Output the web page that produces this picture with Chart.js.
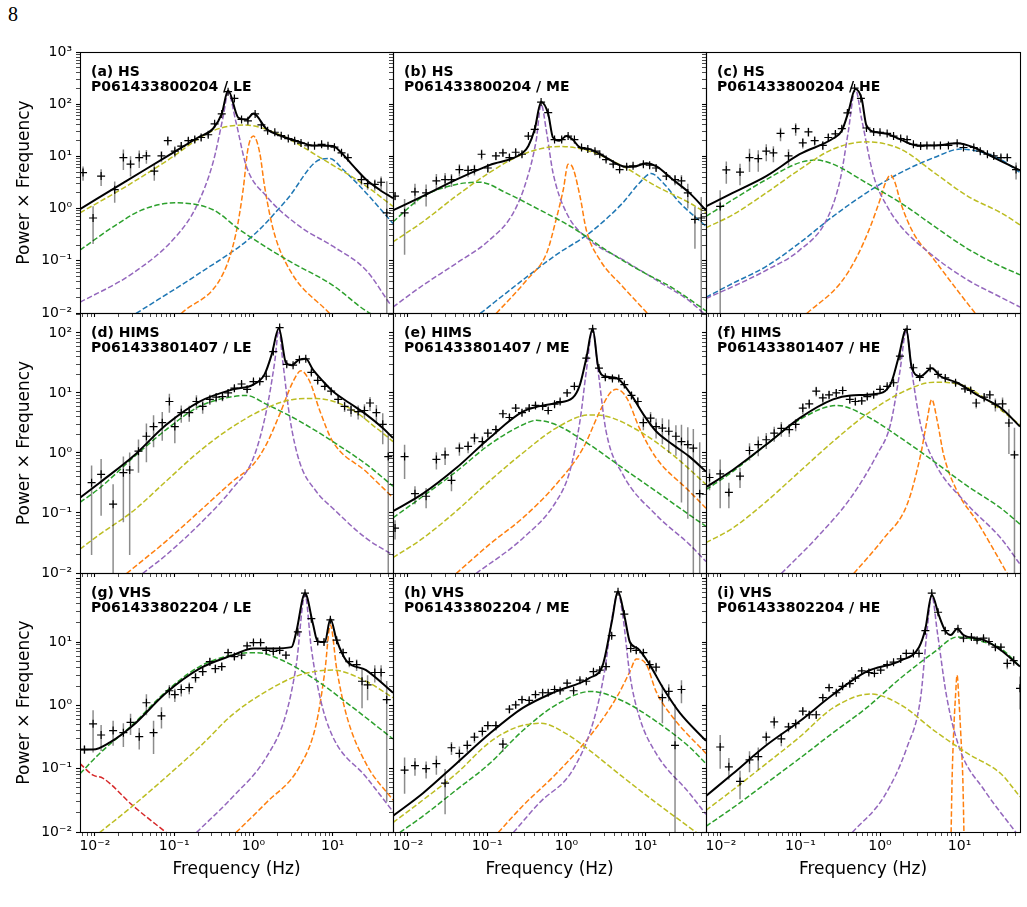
<!DOCTYPE html>
<html lang="en">
<head>
<meta charset="UTF-8" />
<title>Power spectra - P0614338 (HS / HIMS / VHS)</title>
<script src="https://cdn.jsdelivr.net/npm/chart.js@4.4.1/dist/chart.umd.min.js"></script>
<style>
  body { margin: 0; background: #ffffff; }
  #figure { position: relative; width: 1027px; height: 907px; }
  #figure canvas { position: absolute; left: 0; top: 0; }
  .page-num { position: absolute; left: 8px; top: 3px; font: 20px "Liberation Serif", serif; color: #000; }
</style>
</head>
<body>
<div id="figure">
  <div class="page-num">8</div>
  <canvas id="panelA" width="1027" height="907"></canvas>
  <canvas id="panelB" width="1027" height="907"></canvas>
  <canvas id="panelC" width="1027" height="907"></canvas>
  <canvas id="panelD" width="1027" height="907"></canvas>
  <canvas id="panelE" width="1027" height="907"></canvas>
  <canvas id="panelF" width="1027" height="907"></canvas>
  <canvas id="panelG" width="1027" height="907"></canvas>
  <canvas id="panelH" width="1027" height="907"></canvas>
  <canvas id="panelI" width="1027" height="907"></canvas>
</div>
<script>
// axis ranges and tick labels
const xMin = 0.0065, xMax = 57.5;
const yMin = 0.01;
const rowYMax = [1000, 215, 123];
const xTickValues = [0.01, 0.1, 1, 10];
const xTickLabels = ["10⁻²", "10⁻¹", "10⁰", "10¹"];
const yTickValues = [0.01, 0.1, 1, 10, 100, 1000];
const yTickLabels = ["10⁻²", "10⁻¹", "10⁰", "10¹", "10²", "10³"];
const rowLabelMax = [1000, 100, 10];

// data points: [frequency, power x frequency, error]
// model curves: [frequency, power x frequency]

// (a) HS / LE
const aPoints = [[0.0071,4.9,1.5],[0.0095,0.66,0.45],[0.012,4.2,1.5],[0.0178,2.3,1.0],[0.0229,9.5,4],[0.0282,7.1,3],[0.0363,9.5,3.5],[0.0447,10.2,3],[0.0562,5.2,1.8],[0.0692,10.2,2.5],[0.0832,20,4],[0.102,12.6,3],[0.123,15.8,3],[0.151,20,3],[0.182,21,3],[0.219,23,3],[0.269,26,3],[0.324,42,4],[0.398,65,5],[0.479,174,12],[0.575,129,10],[0.708,51,4],[0.851,48,4],[1.05,65,5],[1.26,40,3],[1.51,31,2.5],[1.86,29,2],[2.24,25,2],[2.75,22,1.5],[3.31,20,1.5],[3.98,18,1.5],[4.9,16,1.2],[5.89,16,1.2],[7.24,17,1.3],[8.71,16,1.3],[10.5,15,1.3],[12.9,11.7,1.2],[15.5,9.5,1.2],[23,3.6,0.8],[27.5,3.0,0.7],[33.9,2.9,0.7],[40.7,3.2,0.9],[48,0.83,2.5]];
const aTotal = [[0.0065,0.98],[0.0251,3.4],[0.0794,9.8],[0.2,23],[0.309,33.9],[0.398,65],[0.479,182],[0.646,55],[0.813,51],[1.0,66],[1.45,34],[2.34,24],[3.8,19],[5.62,16.2],[10,15.8],[12.3,12.6],[18.2,6.5],[26.3,3.6],[38.9,2.3],[57.5,1.58]];
const aYellow = [[0.0065,0.83],[0.0251,2.69],[0.0794,8.1],[0.309,31],[0.776,40],[2.34,24.5],[6.92,9.5],[26.3,2.7],[57.5,1.1]];
const aGreen = [[0.0065,0.16],[0.0186,0.49],[0.0398,0.95],[0.102,1.29],[0.309,0.95],[0.676,0.39],[2.63,0.105],[10,0.034],[27.5,0.0105],[57.5,0.0063]];
const aPurple = [[0.0065,0.016],[0.0302,0.058],[0.107,0.30],[0.191,1.10],[0.309,7.6],[0.417,60],[0.479,166],[0.603,45],[0.813,6.5],[1.45,1.74],[3.8,0.46],[10,0.19],[26.3,0.066],[52.5,0.015]];
const aOrange = [[0.123,0.0098],[0.417,0.058],[0.603,0.34],[0.741,2.3],[0.851,13.8],[1.0,24.5],[1.2,11.7],[1.38,2.7],[1.78,0.39],[2.88,0.066],[9.12,0.0098]];
const aBlue = [[0.0331,0.0098],[0.209,0.058],[0.977,0.30],[2.63,1.48],[6.92,8.7],[9.12,9.1],[13.5,5.6],[26.3,2.0],[57.5,0.52]];

// (b) HS / ME
const bPoints = [[0.0069,1.74,0.3],[0.0091,0.83,0.7],[0.0123,2.1,0.9],[0.017,2.0,0.9],[0.0229,3.4,1.2],[0.0295,3.6,1.2],[0.0355,3.6,1.0],[0.0447,5.6,1.5],[0.0575,5.4,1.4],[0.0692,5.6,1.3],[0.0851,11,2.5],[0.102,6.0,1.2],[0.129,10.2,1.8],[0.158,11.7,1.8],[0.191,9.5,1.5],[0.229,12,1.8],[0.275,11,1.5],[0.331,24.5,2.5],[0.398,33,3],[0.479,110,8],[0.589,69,5],[0.708,21,2],[0.871,21,2],[1.05,24.5,2],[1.26,21,1.5],[1.55,14.8,1.2],[1.86,13.8,1.1],[2.29,12.6,1],[2.63,11,1],[3.16,8.7,0.8],[3.89,7.1,0.7],[4.68,5.6,0.6],[5.75,6.3,0.6],[6.92,6.6,0.6],[9.33,7.1,0.7],[11.2,6.8,0.7],[13.5,6.0,0.7],[18.2,4.2,0.7],[23.4,3.6,0.8],[28.2,3.4,1.0],[33.9,2.0,1.0],[41.7,0.62,0.45],[50.1,0.66,1.0]];
const bTotal = [[0.0065,0.93],[0.0155,1.74],[0.0407,3.6],[0.107,6.8],[0.282,11.7],[0.331,15.8],[0.398,33],[0.479,110],[0.589,65],[0.676,23],[0.813,20],[1.0,24.5],[1.2,21],[1.48,14.8],[1.95,13.8],[3.16,9.5],[5.13,6.5],[6.92,6.3],[10.2,7.4],[13.5,6.5],[21.9,3.6],[35.5,2.0],[57.5,0.93]];
const bYellow = [[0.0065,0.23],[0.0155,0.56],[0.0407,1.74],[0.107,4.9],[0.282,11],[0.813,15.5],[1.95,12.6],[5.13,6.5],[13.5,2.7],[35.5,1.29],[57.5,0.83]];
const bGreen = [[0.0065,0.56],[0.0155,1.7],[0.0407,2.9],[0.0813,3.2],[0.174,2.0],[0.457,0.95],[1.2,0.43],[3.16,0.16],[8.32,0.066],[21.9,0.030],[57.5,0.011]];
const bPurple = [[0.0065,0.013],[0.0155,0.034],[0.0407,0.089],[0.107,0.25],[0.214,0.83],[0.316,3.6],[0.417,21],[0.479,100],[0.562,29],[0.676,4.9],[1.0,0.83],[1.95,0.25],[5.13,0.105],[13.5,0.043],[35.5,0.017],[57.5,0.009]];
const bOrange = [[0.13,0.0098],[0.316,0.043],[0.562,0.14],[0.741,0.62],[0.912,2.3],[1.05,7.1],[1.15,6.8],[1.48,1.74],[1.78,0.39],[2.63,0.105],[5.13,0.032],[10.5,0.0098]];
const bBlue = [[0.082,0.0098],[0.282,0.043],[0.741,0.13],[1.95,0.34],[5.13,1.29],[8.32,3.1],[11.7,4.7],[16.6,3.1],[26.9,1.29],[57.5,0.46]];

// (c) HS / HE
const cPoints = [[0.0098,1.1,1.15],[0.0117,5.5,2.5],[0.0174,5.0,2.2],[0.0229,9.5,4.5],[0.0295,9.1,4],[0.0372,12.6,4.5],[0.0457,11.7,4],[0.0562,27.5,8],[0.0708,10.2,3.5],[0.0871,34,9],[0.107,18.2,4],[0.126,29.5,6],[0.151,20,4],[0.191,16.2,3],[0.224,23,4],[0.275,27,4],[0.331,34,4],[0.389,68,6],[0.479,204,12],[0.575,129,8],[0.676,35,3],[0.832,29.5,2.5],[1.0,29,2.5],[1.23,27.5,2],[1.48,24.5,2],[1.82,22,1.8],[2.19,21,1.6],[2.63,17,1.4],[3.24,15.8,1.3],[3.89,16.2,1.3],[4.79,16.2,1.2],[5.75,16.2,1.2],[7.24,16.2,1.2],[9.33,17.8,1.2],[11.2,14.8,1.1],[15.1,14.8,1.1],[18.2,12.6,1.1],[22.4,11,1.1],[26.9,10.2,1.2],[33.1,9.5,1.3],[39.8,9.5,1.5],[51.3,5.6,2]];
const cTotal = [[0.0065,1.1],[0.0141,2.0],[0.0372,4.2],[0.0977,11],[0.257,22],[0.331,31],[0.398,69],[0.49,195],[0.589,126],[0.676,39],[0.912,29],[1.23,27],[1.82,21],[2.95,16.2],[4.79,16.2],[9.33,17.8],[15.1,14.8],[24.5,10.2],[39.8,7.1],[57.5,5.4]];
const cYellow = [[0.0065,0.43],[0.0141,0.76],[0.0372,2.0],[0.0977,5.6],[0.257,13.8],[0.676,19],[1.82,13.8],[4.79,4.9],[12.6,1.74],[33.1,0.83],[57.5,0.49]];
const cGreen = [[0.0065,0.71],[0.0141,1.48],[0.0372,3.6],[0.0977,7.6],[0.158,8.5],[0.257,7.1],[0.676,3.1],[1.82,1.29],[4.79,0.46],[12.6,0.17],[33.1,0.078],[57.5,0.054]];
const cBlue = [[0.0065,0.020],[0.0141,0.037],[0.0372,0.078],[0.0977,0.22],[0.257,0.71],[0.676,2.0],[1.82,4.9],[4.79,9.5],[10.2,13.8],[20.4,11.7],[33.1,8.7],[57.5,4.9]];
const cPurple = [[0.0065,0.019],[0.0141,0.032],[0.0372,0.066],[0.0977,0.16],[0.214,0.62],[0.316,3.6],[0.398,29],[0.49,195],[0.589,51],[0.832,4.2],[1.23,1.1],[1.82,0.46],[4.79,0.12],[12.6,0.043],[33.1,0.020],[57.5,0.013]];
const cOrange = [[0.12,0.0098],[0.316,0.037],[0.513,0.12],[0.759,0.46],[1.0,1.48],[1.17,3.1],[1.35,4.4],[1.55,3.1],[1.82,1.29],[2.63,0.34],[4.79,0.105],[10.2,0.023],[15.8,0.0098]];

// (d) HIMS / LE
const dPoints = [[0.0091,0.32,0.3],[0.012,0.44,0.35],[0.017,0.14,0.16],[0.0229,0.47,0.4],[0.0275,0.52,0.5],[0.0355,1.07,0.6],[0.0447,1.9,1.2],[0.055,2.75,1.5],[0.0708,3.2,1.6],[0.0871,7.2,2.5],[0.102,2.75,1.3],[0.123,4.7,1.5],[0.155,4.7,1.4],[0.191,7.2,2],[0.229,6.0,1.5],[0.282,7.8,1.5],[0.339,8.5,1.5],[0.407,8.7,1.4],[0.479,10,1.5],[0.575,12,1.5],[0.708,14.1,1.5],[0.832,11.5,1.3],[1.0,15.5,1.5],[1.2,15.5,1.5],[1.45,19,1.6],[1.78,49,4],[2.14,123,8],[2.63,30,2.5],[3.16,29,2.2],[3.8,36,2.5],[4.57,37,2.5],[5.37,22,2],[6.46,16.2,1.7],[7.94,12.9,1.5],[9.55,10.7,1.3],[11.7,7.8,1.2],[14.1,6.0,1.2],[17,5.2,1.2],[20.9,4.9,1.3],[25.1,5.1,1.4],[29.5,6.8,1.8],[35.5,4.7,1.6],[42.7,3.0,1.6],[50.1,0.87,1.2]];
const dTotal = [[0.0065,0.18],[0.0115,0.32],[0.0302,0.87],[0.0794,2.95],[0.209,7.2],[0.55,11.5],[1.0,13.8],[1.38,20.4],[1.70,44],[2.09,120],[2.57,31.6],[3.02,29],[3.8,36],[4.57,37],[5.62,24.5],[7.59,15.5],[10,10.7],[16.2,6.8],[26.3,4.4],[42.7,2.6],[57.5,1.78]];
const dGreen = [[0.0065,0.15],[0.0115,0.26],[0.0302,0.83],[0.0794,2.45],[0.209,6.0],[0.55,8.7],[0.813,9.1],[1.45,6.5],[3.8,3.4],[10,1.55],[26.3,0.65],[57.5,0.28]];
const dYellow = [[0.0065,0.025],[0.0115,0.044],[0.0302,0.107],[0.0794,0.34],[0.209,1.07],[0.55,2.75],[1.45,5.6],[3.16,7.8],[6.17,8.1],[16.2,5.6],[35.5,2.6],[57.5,1.55]];
const dPurple = [[0.04,0.0098],[0.0794,0.020],[0.209,0.065],[0.55,0.26],[1.0,0.83],[1.45,4.9],[1.86,34],[2.09,115],[2.34,34],[2.88,3.8],[3.8,0.72],[6.17,0.23],[10,0.12],[26.3,0.038],[57.5,0.020]];
const dOrange = [[0.0251,0.0098],[0.0794,0.034],[0.209,0.107],[0.55,0.34],[1.0,0.65],[1.45,1.38],[2.14,4.4],[3.16,15.5],[3.98,23.4],[5.13,15.5],[6.92,4.9],[10,1.55],[26.3,0.49],[57.5,0.18]];

// (e) HIMS / ME
const ePoints = [[0.0069,0.056,0.02],[0.0091,0.87,0.5],[0.0123,0.21,0.07],[0.017,0.19,0.07],[0.0229,0.78,0.25],[0.0295,0.93,0.3],[0.0355,0.35,0.12],[0.0447,1.2,0.3],[0.0575,1.29,0.3],[0.0692,1.78,0.4],[0.0871,1.55,0.35],[0.102,2.14,0.4],[0.129,2.45,0.4],[0.158,4.5,0.7],[0.191,3.9,0.6],[0.229,5.6,0.8],[0.275,4.7,0.6],[0.339,5.6,0.7],[0.407,6.2,0.7],[0.501,6.0,0.7],[0.589,5.1,0.6],[0.708,6.5,0.7],[0.832,7.2,0.8],[1.02,10,1],[1.26,12.9,1.2],[1.78,38,3],[2.14,117,8],[2.57,26,2],[3.09,18.2,1.5],[3.8,17.4,1.5],[4.57,17.4,1.5],[5.37,13.8,1.3],[6.61,9.1,1.2],[7.94,7.2,1.2],[9.33,3.2,0.8],[11.5,3.8,1.0],[13.5,2.75,1.0],[16.2,2.6,1.2],[19.5,2.3,1.3],[24,1.9,1.0],[28.2,1.55,1.4],[33.9,1.38,1.3],[39.8,1.2,1.3],[47.9,0.21,1.3]];
const eTotal = [[0.0065,0.107],[0.0155,0.21],[0.0407,0.56],[0.107,1.78],[0.282,4.9],[0.741,6.8],[1.2,8.3],[1.48,13.8],[1.78,38],[2.14,117],[2.51,27.5],[3.02,19],[4.27,17.8],[6.31,10],[9.33,4.4],[13.5,2.3],[21.9,1.38],[35.5,0.87],[57.5,0.49]];
const eGreen = [[0.0065,0.083],[0.0155,0.19],[0.0407,0.49],[0.107,1.38],[0.282,2.95],[0.417,3.5],[0.741,2.95],[1.95,1.38],[5.13,0.56],[13.5,0.23],[35.5,0.093],[57.5,0.06]];
const eYellow = [[0.0065,0.018],[0.0155,0.038],[0.0407,0.107],[0.107,0.34],[0.282,1.0],[0.741,2.6],[1.95,4.3],[3.16,4.1],[8.32,2.3],[21.9,0.93],[57.5,0.30]];
const ePurple = [[0.0724,0.0098],[0.282,0.038],[0.741,0.155],[1.1,0.49],[1.48,3.4],[1.78,23],[2.14,115],[2.51,23],[3.16,2.3],[5.13,0.44],[13.5,0.093],[35.5,0.030],[57.5,0.0155]];
const eOrange = [[0.0407,0.0098],[0.107,0.030],[0.282,0.083],[0.741,0.30],[1.62,1.2],[2.63,4.9],[3.55,10],[4.27,11.5],[5.75,8.3],[8.32,2.6],[13.5,0.83],[35.5,0.23],[57.5,0.12]];

// (f) HIMS / HE
const fPoints = [[0.0072,0.39,0.15],[0.0098,0.45,0.33],[0.0126,0.22,0.1],[0.0174,0.41,0.15],[0.0229,1.1,0.35],[0.0295,1.38,0.5],[0.0372,1.66,0.5],[0.0468,2.14,0.6],[0.0575,2.57,0.7],[0.0724,2.45,0.6],[0.0871,3.0,0.7],[0.107,5.6,1.2],[0.129,6.6,1.2],[0.158,10.7,2],[0.191,8.3,1.5],[0.229,9.3,1.5],[0.282,10,1.5],[0.339,11,1.5],[0.417,7.8,1.1],[0.49,7.2,1],[0.589,7.4,1],[0.692,8.7,1],[0.832,9.3,1],[1.0,11.5,1.1],[1.23,12.9,1.2],[1.48,14.8,1.3],[1.78,41,3],[2.19,115,8],[2.63,26.3,2],[3.16,18.2,1.5],[4.27,25.7,2],[5.37,20.4,1.7],[6.61,17.8,1.6],[8.91,14.8,1.5],[11.7,11.7,1.4],[13.8,11,1.4],[16.2,6.8,1.3],[20.4,8.5,1.5],[24,9.3,1.6],[28.2,6.5,1.6],[34.7,6.6,1.8],[41.7,3.16,2.2],[49,0.93,1.7]];
const fTotal = [[0.0065,0.27],[0.0141,0.52],[0.0372,1.38],[0.0977,3.8],[0.257,7.8],[0.427,9.1],[0.832,9.5],[1.35,13.8],[1.70,38],[2.14,115],[2.51,26.3],[3.24,19],[4.47,25.7],[5.75,19],[9.33,14.8],[16.6,9.3],[33.1,5.6],[57.5,2.75]];
const fGreen = [[0.0065,0.245],[0.0141,0.49],[0.0372,1.38],[0.0977,3.6],[0.288,6.2],[0.676,4.1],[1.82,1.78],[4.79,0.72],[12.6,0.28],[33.1,0.12],[57.5,0.065]];
const fYellow = [[0.0065,0.032],[0.0141,0.056],[0.0372,0.155],[0.0977,0.49],[0.257,1.55],[0.676,4.4],[1.82,10],[4.79,15.1],[10.2,13.8],[20.4,8.3],[57.5,2.95]];
const fPurple = [[0.0575,0.0098],[0.158,0.038],[0.427,0.178],[0.912,0.93],[1.35,2.95],[1.78,23],[2.14,110],[2.51,23],[3.24,2.95],[4.79,0.72],[12.6,0.138],[33.1,0.038],[57.5,0.014]];
const fOrange = [[0.468,0.0098],[1.12,0.038],[2.19,0.138],[3.24,0.93],[3.89,3.4],[4.47,7.8],[5.25,3.4],[6.31,0.93],[9.33,0.23],[16.6,0.072],[39.8,0.0098]];

// (g) VHS / LE
const gPoints = [[0.0074,0.20,0.03],[0.0095,0.51,0.33],[0.012,0.34,0.15],[0.017,0.40,0.17],[0.0229,0.37,0.15],[0.0282,0.54,0.2],[0.0363,0.32,0.12],[0.0447,1.1,0.4],[0.055,0.37,0.2],[0.0692,0.68,0.25],[0.0871,1.7,0.4],[0.102,1.48,0.35],[0.123,1.78,0.4],[0.155,1.9,0.4],[0.186,2.75,0.5],[0.229,3.4,0.5],[0.282,4.9,0.7],[0.331,3.8,0.6],[0.398,4.1,0.6],[0.479,6.8,0.8],[0.575,5.9,0.7],[0.708,6.2,0.7],[0.832,8.7,0.9],[1.0,9.8,0.9],[1.23,9.8,0.9],[1.45,7.4,0.8],[1.78,7.1,0.8],[2.14,7.4,0.8],[2.57,6.2,0.8],[3.63,14.5,1.2],[4.47,59,4],[5.37,23.4,2],[6.46,10.2,1.2],[7.76,10,1.2],[9.33,22.4,2],[11.2,10.7,1.2],[13.5,6.8,1],[16.2,4.9,0.9],[20,4.4,0.9],[23.4,2.4,1.5],[27.5,2.1,0.9],[33.9,3.3,1.0],[40.7,3.3,1.0],[47.9,1.23,1.2]];
const gTotal = [[0.0065,0.20],[0.0095,0.20],[0.0155,0.26],[0.0302,0.48],[0.0794,1.58],[0.209,3.8],[0.55,6.2],[1.0,7.9],[1.78,7.9],[3.02,8.3],[3.47,14.5],[4.47,59],[5.62,19.5],[6.46,10.2],[7.94,10],[9.33,23],[11.2,10.7],[14.8,5.1],[26.3,3.6],[57.5,1.58]];
const gGreen = [[0.0065,0.083],[0.0115,0.174],[0.0302,0.50],[0.0794,1.66],[0.209,4.1],[0.55,6.3],[1.1,6.8],[2.34,5.1],[6.17,2.5],[16.2,1.02],[57.5,0.295]];
const gYellow = [[0.0115,0.0098],[0.0302,0.026],[0.0794,0.074],[0.209,0.22],[0.55,0.72],[1.45,1.66],[3.8,3.0],[10,3.6],[26.3,2.4],[57.5,1.32]];
const gRed = [[0.0065,0.12],[0.0095,0.079],[0.0126,0.071],[0.0302,0.026],[0.0794,0.0098]];
const gPurple = [[0.191,0.0098],[0.55,0.036],[1.45,0.151],[2.57,0.72],[3.47,4.4],[4.47,56],[5.37,7.9],[6.92,1.32],[10,0.32],[26.3,0.074],[57.5,0.021]];
const gOrange = [[0.603,0.0098],[1.45,0.029],[3.8,0.107],[6.17,0.50],[7.94,3.4],[9.33,18.6],[11.2,3.8],[14.8,0.72],[26.3,0.12],[57.5,0.032]];

// (h) VHS / ME
const hPoints = [[0.0091,0.095,0.055],[0.0123,0.112,0.035],[0.017,0.10,0.03],[0.0229,0.12,0.04],[0.0295,0.059,0.04],[0.0355,0.214,0.05],[0.0447,0.174,0.05],[0.0562,0.234,0.05],[0.0692,0.316,0.06],[0.0871,0.389,0.07],[0.102,0.48,0.08],[0.129,0.48,0.08],[0.158,0.245,0.06],[0.191,0.87,0.12],[0.229,1.02,0.13],[0.275,1.23,0.14],[0.339,1.2,0.13],[0.407,1.48,0.15],[0.501,1.58,0.15],[0.589,1.58,0.15],[0.708,1.78,0.15],[0.832,1.7,0.15],[1.02,2.24,0.2],[1.23,1.7,0.15],[1.48,2.5,0.2],[1.78,2.4,0.2],[2.19,3.4,0.3],[2.63,3.6,0.3],[3.16,4.1,0.35],[3.72,12.6,1],[4.47,62,4],[5.37,27.5,2],[6.46,7.9,0.8],[7.59,7.4,0.8],[9.33,6.8,0.8],[11.2,4.4,0.7],[13.5,4.0,0.7],[16.2,1.32,0.8],[19.5,1.66,0.5],[23.4,0.234,0.8],[28.2,1.78,0.7]];
const hTotal = [[0.0065,0.018],[0.0155,0.041],[0.0407,0.12],[0.107,0.355],[0.282,0.91],[0.741,1.66],[1.95,2.7],[2.88,4.4],[3.72,20.4],[4.47,62],[5.37,26.3],[6.31,10],[7.94,7.9],[11.2,4.4],[16.6,1.86],[26.9,0.76],[57.5,0.275]];
const hGreen = [[0.0079,0.0098],[0.0155,0.0178],[0.0407,0.046],[0.107,0.12],[0.282,0.40],[0.741,1.02],[2.04,1.66],[5.13,1.17],[13.5,0.56],[35.5,0.22],[57.5,0.12]];
const hYellow = [[0.0065,0.0141],[0.0155,0.032],[0.0407,0.083],[0.107,0.26],[0.234,0.45],[0.479,0.52],[1.0,0.355],[1.95,0.195],[5.13,0.074],[13.5,0.029],[43.7,0.0098]];
const hPurple = [[0.214,0.0098],[0.457,0.029],[1.2,0.095],[2.19,0.56],[3.02,3.4],[3.8,26.3],[4.47,60],[5.13,26.3],[6.31,3.0],[8.32,0.65],[13.5,0.174],[35.5,0.041],[57.5,0.019]];
const hOrange = [[0.138,0.0098],[0.282,0.026],[0.741,0.083],[1.95,0.32],[4.27,1.32],[6.31,3.4],[7.59,5.4],[10.2,4.4],[13.5,1.66],[21.9,0.65],[57.5,0.174]];

// (i) VHS / HE
const iPoints = [[0.0098,0.22,0.12],[0.0126,0.107,0.04],[0.0174,0.063,0.03],[0.0229,0.138,0.05],[0.0295,0.155,0.06],[0.0372,0.316,0.07],[0.0468,0.55,0.12],[0.0575,0.295,0.07],[0.0708,0.457,0.08],[0.0871,0.513,0.09],[0.107,0.81,0.12],[0.129,0.71,0.1],[0.158,0.71,0.1],[0.191,1.32,0.15],[0.229,1.9,0.2],[0.282,1.58,0.15],[0.339,2.0,0.18],[0.417,2.2,0.2],[0.49,2.7,0.2],[0.589,3.5,0.25],[0.724,3.3,0.25],[0.851,3.2,0.25],[1.02,3.6,0.25],[1.23,4.4,0.3],[1.48,4.8,0.3],[1.82,5.4,0.35],[2.14,6.6,0.4],[2.63,6.6,0.4],[3.09,6.6,0.4],[3.72,15.1,1],[4.47,59,4],[5.37,29.5,2],[6.61,15.1,1],[9.55,16.2,1],[11.2,11.5,0.8],[14.1,12,0.8],[16.6,10.7,0.8],[20,11.5,0.9],[23.4,10.2,0.9],[28.2,8.3,0.9],[33.1,8.3,0.9],[39.8,4.6,0.9],[47.9,5.1,0.9],[57.5,1.86,1.0]];
const iTotal = [[0.0065,0.037],[0.0141,0.083],[0.0372,0.234],[0.0977,0.56],[0.257,1.48],[0.676,3.4],[1.82,5.1],[3.09,8.3],[3.72,16.2],[4.47,56],[5.5,26.3],[6.61,15.1],[7.76,12.9],[9.33,16.2],[11.2,12.9],[20.4,10.7],[33.1,7.4],[57.5,4.1]];
const iGreen = [[0.0065,0.0123],[0.0141,0.024],[0.0372,0.059],[0.0977,0.145],[0.257,0.37],[0.676,0.91],[1.82,2.7],[4.79,6.9],[9.33,12],[20.4,10],[33.1,7.9],[57.5,4.1]];
const iYellow = [[0.0065,0.022],[0.0141,0.046],[0.0372,0.12],[0.0977,0.316],[0.257,0.91],[0.759,1.51],[1.82,1.02],[4.79,0.40],[12.6,0.174],[33.1,0.083],[57.5,0.036]];
const iPurple = [[0.447,0.0098],[1.12,0.036],[2.19,0.22],[3.24,1.32],[3.89,14.5],[4.47,55],[5.25,14.5],[6.92,1.32],[10.2,0.195],[20.4,0.046],[51.3,0.0098]];
const iOrange = [[7.83,0.0098],[8.05,0.066],[8.45,0.40],[8.87,1.32],[9.31,3.0],[9.78,1.32],[10.4,0.32],[11.0,0.066],[11.35,0.0098]];

const palette = {
  yellow: "#bcbd22", green: "#2ca02c", purple: "#9467bd",
  orange: "#ff7f0e", blue: "#1f77b4", red: "#d62728"
};

const panels = [
  { canvas: "panelA", row: 0, col: 0, lines: ["(a) HS", "P061433800204 / LE"], points: aPoints, total: aTotal,
    parts: [[aYellow, "yellow"], [aGreen, "green"], [aPurple, "purple"], [aOrange, "orange"], [aBlue, "blue"]] },
  { canvas: "panelB", row: 0, col: 1, lines: ["(b) HS", "P061433800204 / ME"], points: bPoints, total: bTotal,
    parts: [[bYellow, "yellow"], [bGreen, "green"], [bPurple, "purple"], [bOrange, "orange"], [bBlue, "blue"]] },
  { canvas: "panelC", row: 0, col: 2, lines: ["(c) HS", "P061433800204 / HE"], points: cPoints, total: cTotal,
    parts: [[cYellow, "yellow"], [cGreen, "green"], [cPurple, "purple"], [cOrange, "orange"], [cBlue, "blue"]] },
  { canvas: "panelD", row: 1, col: 0, lines: ["(d) HIMS", "P061433801407 / LE"], points: dPoints, total: dTotal,
    parts: [[dYellow, "yellow"], [dGreen, "green"], [dPurple, "purple"], [dOrange, "orange"]] },
  { canvas: "panelE", row: 1, col: 1, lines: ["(e) HIMS", "P061433801407 / ME"], points: ePoints, total: eTotal,
    parts: [[eYellow, "yellow"], [eGreen, "green"], [ePurple, "purple"], [eOrange, "orange"]] },
  { canvas: "panelF", row: 1, col: 2, lines: ["(f) HIMS", "P061433801407 / HE"], points: fPoints, total: fTotal,
    parts: [[fYellow, "yellow"], [fGreen, "green"], [fPurple, "purple"], [fOrange, "orange"]] },
  { canvas: "panelG", row: 2, col: 0, lines: ["(g) VHS", "P061433802204 / LE"], points: gPoints, total: gTotal,
    parts: [[gYellow, "yellow"], [gGreen, "green"], [gPurple, "purple"], [gOrange, "orange"], [gRed, "red"]] },
  { canvas: "panelH", row: 2, col: 1, lines: ["(h) VHS", "P061433802204 / ME"], points: hPoints, total: hTotal,
    parts: [[hYellow, "yellow"], [hGreen, "green"], [hPurple, "purple"], [hOrange, "orange"]] },
  { canvas: "panelI", row: 2, col: 2, lines: ["(i) VHS", "P061433802204 / HE"], points: iPoints, total: iTotal,
    parts: [[iYellow, "yellow"], [iGreen, "green"], [iPurple, "purple"], [iOrange, "orange"]] }
];

// figure layout (pixels)
const figW = 1027, figH = 907;
const colLeft = [80, 393, 706], colRight = [393, 706, 1020];
const rowTop = [52, 313, 573], rowBottom = [313, 573, 832];
const yAxisBox = 66, xAxisBox = 48;

Chart.defaults.font.family = '"DejaVu Sans", sans-serif';
Chart.defaults.color = "#000";
Chart.defaults.animation = false;

const toXY = (arr) => arr.map(([f, v]) => ({ x: f, y: v }));

// vertical error bars as line segments separated by gaps
function errorBars(points) {
  const out = [];
  points.forEach(([f, v, e]) => {
    out.push({ x: f, y: Math.max(v - e, 1e-4) }, { x: f, y: v + e }, { x: f, y: NaN });
  });
  return out;
}

// log ticks: majors at decades, minors at 2..9
function setLogTicks(scale) {
  const ticks = [];
  const lo = Math.floor(Math.log10(scale.min) + 1e-9);
  const hi = Math.floor(Math.log10(scale.max) + 1e-9);
  for (let e = lo; e <= hi; e++) {
    for (let k = 1; k <= 9; k++) {
      const v = k * Math.pow(10, e);
      if (v >= scale.min * (1 - 1e-9) && v <= scale.max * (1 + 1e-9)) {
        ticks.push({ value: v, major: k === 1 });
      }
    }
  }
  scale.ticks = ticks;
}

function tickText(values, labels, maxLabel) {
  return function (value) {
    if (value > maxLabel * 1.001) return "";
    const i = values.findIndex((v) => Math.abs(Math.log10(v) - Math.log10(value)) < 1e-6);
    return i >= 0 ? labels[i] : "";
  };
}

const framePlugin = {
  id: "frame",
  afterDatasetsDraw(chart) {
    const { ctx, chartArea: a } = chart;
    ctx.save();
    ctx.strokeStyle = "#000";
    ctx.lineWidth = 1.1;
    ctx.strokeRect(Math.round(a.left) + 0.5, Math.round(a.top) + 0.5,
      Math.round(a.right - a.left), Math.round(a.bottom - a.top));
    ctx.restore();
  }
};

const panelTextPlugin = {
  id: "panelText",
  afterDraw(chart, args, opts) {
    const { ctx, chartArea: a } = chart;
    ctx.save();
    ctx.font = 'bold 14px "DejaVu Sans", sans-serif';
    ctx.fillStyle = "#000";
    ctx.textBaseline = "alphabetic";
    ctx.fillText(opts.lines[0], a.left + 11, a.top + 24);
    ctx.fillText(opts.lines[1], a.left + 11, a.top + 39);
    ctx.restore();
  }
};

const tickGrid = {
  display: true,
  drawOnChartArea: false,
  drawTicks: true,
  tickLength: 4,
  tickColor: "#000",
  tickWidth: (c) => (c.tick && c.tick.major ? 1.1 : 0.7)
};

function makePanel(p) {
  const showY = p.col === 0;
  const showX = p.row === 2;

  const datasets = [
    {
      data: toXY(p.points), showLine: false, pointStyle: "cross", pointRadius: 4,
      pointBorderColor: "#000", pointBorderWidth: 1.2, clip: 0
    },
    {
      data: errorBars(p.points), borderColor: "rgba(0,0,0,0.45)", borderWidth: 1.5,
      pointRadius: 0, spanGaps: false, clip: 0
    },
    {
      data: toXY(p.total), borderColor: "#000", borderWidth: 2, pointRadius: 0,
      cubicInterpolationMode: "monotone", capBezierPoints: false, clip: 0
    }
  ];
  p.parts.forEach(([arr, colour]) => {
    datasets.push({
      data: toXY(arr), borderColor: palette[colour], borderWidth: 1.5, borderDash: [5.5, 2.4],
      pointRadius: 0, cubicInterpolationMode: "monotone", capBezierPoints: false, clip: 0
    });
  });

  new Chart(document.getElementById(p.canvas), {
    type: "line",
    data: { datasets },
    options: {
      responsive: false,
      devicePixelRatio: 1,
      events: [],
      layout: {
        padding: {
          left: colLeft[p.col] - yAxisBox,
          right: figW - colRight[p.col],
          top: rowTop[p.row],
          bottom: figH - rowBottom[p.row] - xAxisBox
        }
      },
      scales: {
        x: {
          type: "logarithmic",
          position: "bottom",
          min: xMin,
          max: xMax,
          afterBuildTicks: setLogTicks,
          afterFit: (s) => { s.height = xAxisBox; },
          grid: tickGrid,
          border: { display: false },
          ticks: {
            display: showX, autoSkip: false, maxRotation: 0, minRotation: 0, padding: 2,
            font: { size: 14 }, color: "#000",
            callback: tickText(xTickValues, xTickLabels, 100)
          },
          title: {
            display: showX, text: "Frequency (Hz)", color: "#000",
            font: { size: 17 }, padding: 0
          }
        },
        y: {
          type: "logarithmic",
          position: "left",
          min: yMin,
          max: rowYMax[p.row],
          afterBuildTicks: setLogTicks,
          afterFit: (s) => { s.width = yAxisBox; },
          grid: tickGrid,
          border: { display: false },
          ticks: {
            display: showY, autoSkip: false, padding: 4,
            font: { size: 14 }, color: "#000",
            callback: tickText(yTickValues, yTickLabels, rowLabelMax[p.row])
          },
          title: {
            display: showY, text: "Power × Frequency", color: "#000",
            font: { size: 17 }, padding: 0
          }
        }
      },
      plugins: {
        legend: { display: false },
        tooltip: { enabled: false },
        panelText: { lines: p.lines }
      }
    },
    plugins: [framePlugin, panelTextPlugin]
  });
}

panels.forEach(makePanel);
</script>
</body>
</html>
